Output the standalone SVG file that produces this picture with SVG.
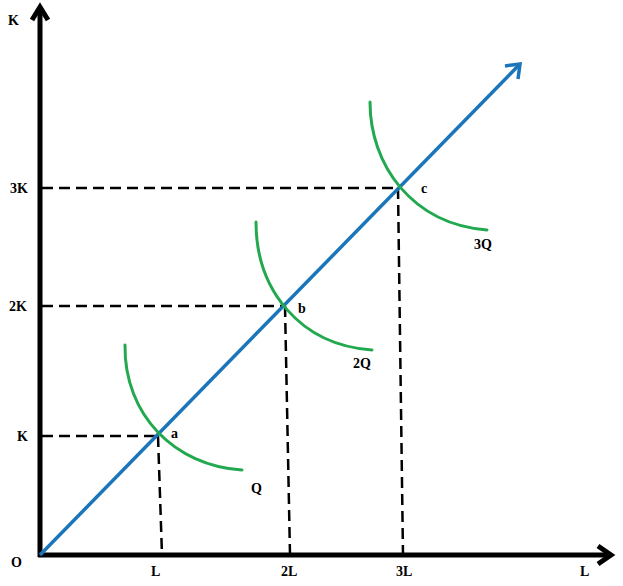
<svg xmlns="http://www.w3.org/2000/svg" width="623" height="586" viewBox="0 0 623 586">
<style>
.t{font-family:"Liberation Serif","Times New Roman",serif;font-weight:bold;font-size:14px;fill:#000}
.axis{stroke:#000;stroke-width:5;fill:none}
.dash{stroke:#000;stroke-width:2.5;stroke-dasharray:11 6;fill:none}
.iso{stroke:#22a94f;stroke-width:3;fill:none;stroke-linecap:round}
.ray{stroke:#1b75bb;stroke-width:3.5;fill:none}
</style>
<rect width="623" height="586" fill="#fff"/>
<g id="axes">
<line class="axis" x1="40" y1="557" x2="40" y2="8"/>
<polyline class="axis" points="32,20 40,7 48,20" stroke-linejoin="miter"/>
<line class="axis" x1="38" y1="555" x2="609" y2="555"/>
<polyline class="axis" points="598,546 611,555 598,564"/>
</g>
<g id="connectors">
<line class="dash" x1="42" y1="436" x2="158" y2="436"/>
<line class="dash" x1="158" y1="436" x2="162" y2="555"/>
<line class="dash" x1="42" y1="306" x2="285" y2="306"/>
<line class="dash" x1="285" y1="306" x2="290" y2="555"/>
<line class="dash" x1="42" y1="188" x2="398" y2="188"/>
<line class="dash" x1="398" y1="188" x2="403" y2="555"/>
</g>
<g id="ray">
<line class="ray" x1="40" y1="555" x2="520" y2="64"/>
<polyline class="ray" points="505,66 520,64 518,79" stroke-width="4"/>
</g>
<g id="curve-Q"><path class="iso" d="M125,345 C124,415 175,466 242,470"/></g>
<g id="curve-2Q"><path class="iso" d="M256,222 C256,290 300,345 372,350"/></g>
<g id="curve-3Q"><path class="iso" d="M370,102 C370,165 412,224 487,230"/></g>
<g id="labels">
<text class="t" x="8" y="25">K</text>
<text class="t" x="10" y="193">3K</text>
<text class="t" x="9" y="311">2K</text>
<text class="t" x="17" y="441">K</text>
<text class="t" x="11" y="567">O</text>
<text class="t" x="151" y="576">L</text>
<text class="t" x="281" y="576">2L</text>
<text class="t" x="396" y="576">3L</text>
<text class="t" x="580" y="576">L</text>
<text class="t" x="171" y="438">a</text>
<text class="t" x="298" y="313">b</text>
<text class="t" x="421" y="193">c</text>
<text class="t" x="251" y="493">Q</text>
<text class="t" x="353" y="368">2Q</text>
<text class="t" x="474" y="249">3Q</text>
</g>
</svg>
